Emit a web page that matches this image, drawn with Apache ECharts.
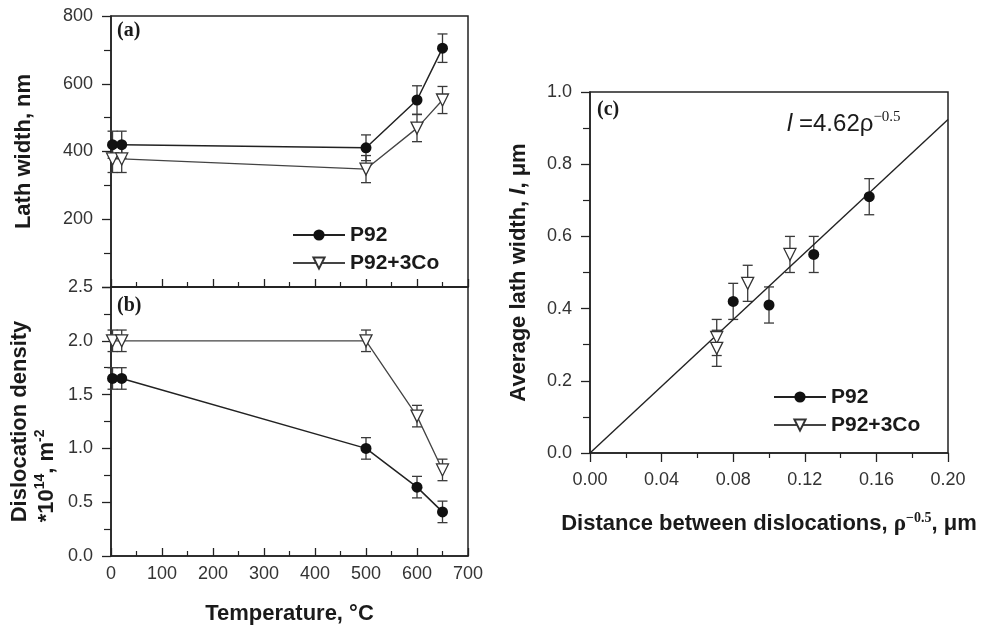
<!DOCTYPE html>
<html>
<head>
<meta charset="utf-8">
<title>Lath width and dislocation density</title>
<script src="https://cdn.jsdelivr.net/npm/echarts@6/dist/echarts.min.js"></script>
<style>
  html, body { margin: 0; padding: 0; background: #fff; }
  #chart { width: 989px; height: 630px; }
</style>
</head>
<body>
<div id="chart"></div>
<script>
// data
const temps = [3, 21, 500, 600, 650]
const lathP92 = [420, 420, 411, 552, 705]
const lathP92Err = [40, 40, 38, 42, 42]
const lathCo = [378, 378, 348, 469, 552]
const lathCoErr = [40, 40, 40, 40, 40]

const densP92 = [1.65, 1.65, 1.0, 0.64, 0.41]
const densP92Err = [0.1, 0.1, 0.1, 0.1, 0.1]
const densCo = [2.0, 2.0, 2.0, 1.30, 0.80]
const densCoErr = [0.1, 0.1, 0.1, 0.1, 0.1]

const distP92 = [0.080, 0.100, 0.125, 0.156]
const widthP92 = [0.42, 0.41, 0.55, 0.71]
const widthP92Err = [0.05, 0.05, 0.05, 0.05]
const distCo = [0.0708, 0.0708, 0.0881, 0.1117]
const widthCo = [0.32, 0.29, 0.47, 0.55]
const widthCoErr = [0.05, 0.05, 0.05, 0.05]

// l = 4.62 * rho^-0.5, end points of the fitted line
const fitX = [0, 0.2]
const fitY = [0, 0.924]

const SANS = '"Liberation Sans", Arial, sans-serif'
const SERIF = '"Liberation Serif", "Times New Roman", serif'
const INK = '#1a1a1a'

const pairs = (xs, ys) => xs.map((x, i) => [x, ys[i]])
const triples = (xs, ys, es) => xs.map((x, i) => [x, ys[i], es[i]])

const errorBars = (rows, axis, cap) => ({
  type: 'custom',
  xAxisIndex: axis,
  yAxisIndex: axis,
  silent: true,
  z: 1,
  encode: { x: 0, y: [1] },
  data: rows,
  renderItem: (params, api) => {
    const x = api.value(0), y = api.value(1), e = api.value(2)
    const top = api.coord([x, y + e])
    const bot = api.coord([x, y - e])
    const st = { stroke: '#3a3a3a', lineWidth: 1.3 }
    return {
      type: 'group',
      children: [
        { type: 'line', shape: { x1: top[0], y1: top[1], x2: bot[0], y2: bot[1] }, style: st },
        { type: 'line', shape: { x1: top[0] - cap, y1: top[1], x2: top[0] + cap, y2: top[1] }, style: st },
        { type: 'line', shape: { x1: bot[0] - cap, y1: bot[1], x2: bot[0] + cap, y2: bot[1] }, style: st }
      ]
    }
  }
})

const circleStyle = { symbol: 'circle', symbolSize: 11, itemStyle: { color: '#111', opacity: 1 } }
const triStyle = {
  symbol: 'triangle', symbolRotate: 180, symbolSize: 12,
  itemStyle: { color: '#fff', borderColor: '#333', borderWidth: 1.3, opacity: 1 }
}

const gridBox = { show: true, borderColor: '#222', borderWidth: 1.5, backgroundColor: 'transparent' }
const axisLine = { show: true, lineStyle: { color: '#222', width: 1.5 } }
const tickLabel = { color: '#333', fontSize: 18, fontFamily: SANS }
const nameStyle = { color: INK, fontSize: 22, fontWeight: 'bold', fontFamily: SANS }

const tempAxis = (idx, showLabels) => ({
  type: 'value', gridIndex: idx, min: 0, max: 700, interval: 100,
  axisLine: axisLine,
  axisTick: { show: true, inside: true, length: 8, lineStyle: { color: '#222', width: 1.3 } },
  minorTick: { show: true, splitNumber: 2, length: 5, lineStyle: { color: '#222', width: 1.2 } },
  splitLine: { show: false },
  axisLabel: { show: showLabels, margin: 9, ...tickLabel },
  name: showLabels ? 'Temperature, °C' : '',
  nameLocation: 'middle', nameGap: 47, nameTextStyle: nameStyle
})

const option = {
  animation: false,
  backgroundColor: '#fff',
  textStyle: { fontFamily: SANS },
  grid: [
    { left: 111, top: 16, width: 357, height: 271, ...gridBox },
    { left: 111, top: 287, width: 357, height: 269, ...gridBox },
    { left: 590, top: 92, width: 358, height: 361, ...gridBox }
  ],
  xAxis: [
    tempAxis(0, false),
    tempAxis(1, true),
    {
      type: 'value', gridIndex: 2, min: 0, max: 0.2, interval: 0.04,
      axisLine: axisLine,
      axisTick: { show: true, length: 9, lineStyle: { color: '#222', width: 1.3 } },
      minorTick: { show: true, splitNumber: 2, length: 5, lineStyle: { color: '#222', width: 1.2 } },
      splitLine: { show: false },
      axisLabel: { margin: 18, formatter: v => v.toFixed(2), ...tickLabel },
      name: '{t|Distance between dislocations, }{r|ρ}{s|−0.5}{t|, μm}',
      nameLocation: 'middle', nameGap: 58,
      nameTextStyle: {
        ...nameStyle,
        rich: {
          t: { fontSize: 22, fontWeight: 'bold', fontFamily: SANS, color: INK, lineHeight: 26 },
          r: { fontSize: 23, fontFamily: SERIF, color: INK, lineHeight: 26 },
          s: { fontSize: 14, fontFamily: SERIF, color: INK, verticalAlign: 'top', lineHeight: 26 }
        }
      }
    }
  ],
  yAxis: [
    {
      type: 'value', gridIndex: 0, min: 0, max: 800, interval: 200,
      axisLine: axisLine,
      axisTick: { show: true, length: 9, lineStyle: { color: '#222', width: 1.3 } },
      minorTick: { show: true, splitNumber: 2, length: 7, lineStyle: { color: '#222', width: 1.2 } },
      splitLine: { show: false },
      axisLabel: { margin: 18, formatter: v => (v === 0 ? '' : String(v)), ...tickLabel },
      name: 'Lath width, nm', nameLocation: 'middle', nameGap: 76, nameTextStyle: nameStyle
    },
    {
      type: 'value', gridIndex: 1, min: 0, max: 2.5, interval: 0.5,
      axisLine: axisLine,
      axisTick: { show: true, length: 9, lineStyle: { color: '#222', width: 1.3 } },
      minorTick: { show: true, splitNumber: 2, length: 7, lineStyle: { color: '#222', width: 1.2 } },
      splitLine: { show: false },
      axisLabel: { margin: 18, formatter: v => v.toFixed(1), ...tickLabel },
      name: '{t|Dislocation density}\n{t|*10}{s|14}{t|, m}{s|-2}',
      nameLocation: 'middle', nameGap: 51,
      nameTextStyle: {
        ...nameStyle,
        padding: [0, 0, 0, 0],
        rich: {
          t: { fontSize: 22, fontWeight: 'bold', fontFamily: SANS, color: INK, lineHeight: 27, align: 'left' },
          s: { fontSize: 14, fontWeight: 'bold', fontFamily: SANS, color: INK, lineHeight: 27, verticalAlign: 'top', align: 'left' }
        }
      }
    },
    {
      type: 'value', gridIndex: 2, min: 0, max: 1, interval: 0.2,
      axisLine: axisLine,
      axisTick: { show: true, length: 9, lineStyle: { color: '#222', width: 1.3 } },
      minorTick: { show: true, splitNumber: 2, length: 7, lineStyle: { color: '#222', width: 1.2 } },
      splitLine: { show: false },
      axisLabel: { margin: 18, formatter: v => v.toFixed(1), ...tickLabel },
      name: '{t|Average lath width, }{i|l}{t|, μm}',
      nameLocation: 'middle', nameGap: 60,
      nameTextStyle: {
        ...nameStyle,
        rich: {
          t: { fontSize: 22, fontWeight: 'bold', fontFamily: SANS, color: INK },
          i: { fontSize: 22, fontWeight: 'bold', fontStyle: 'italic', fontFamily: SANS, color: INK }
        }
      }
    }
  ],
  legend: [
    {
      data: ['P92', 'P92+3Co'], orient: 'vertical', left: 292, top: 224, padding: 0,
      itemWidth: 52, itemHeight: 14, itemGap: 6, selectedMode: false,
      textStyle: { fontSize: 21, fontWeight: 'bold', color: INK, fontFamily: SANS, lineHeight: 22 }
    },
    {
      data: ['P92', 'P92+3Co'], orient: 'vertical', left: 773, top: 386, padding: 0,
      itemWidth: 52, itemHeight: 14, itemGap: 6, selectedMode: false,
      textStyle: { fontSize: 21, fontWeight: 'bold', color: INK, fontFamily: SANS, lineHeight: 22 }
    }
  ],
  graphic: [
    { type: 'text', left: 117, top: 21, style: { text: '(a)', font: `bold 20px ${SERIF}`, fill: INK } },
    { type: 'text', left: 117, top: 296, style: { text: '(b)', font: `bold 20px ${SERIF}`, fill: INK } },
    { type: 'text', left: 597, top: 100, style: { text: '(c)', font: `bold 20px ${SERIF}`, fill: INK } },
    {
      type: 'text', left: 787, top: 110,
      style: {
        text: '{i|l} =4.62{r|ρ}{s|−0.5}',
        font: `24px ${SANS}`, fill: INK,
        rich: {
          i: { fontSize: 24, fontStyle: 'italic', fontFamily: SANS, lineHeight: 28 },
          r: { fontSize: 24, fontFamily: SANS, lineHeight: 28 },
          s: { fontSize: 15, fontFamily: SERIF, verticalAlign: 'top', lineHeight: 28 }
        }
      }
    }
  ],
  series: [
    {
      name: 'P92', type: 'line', xAxisIndex: 0, yAxisIndex: 0, z: 3,
      data: pairs(temps, lathP92), ...circleStyle,
      lineStyle: { color: '#222', width: 1.5 }
    },
    {
      name: 'P92+3Co', type: 'line', xAxisIndex: 0, yAxisIndex: 0, z: 3,
      data: pairs(temps, lathCo), ...triStyle,
      lineStyle: { color: '#444', width: 1.3 }
    },
    errorBars(triples(temps, lathP92, lathP92Err), 0, 5),
    errorBars(triples(temps, lathCo, lathCoErr), 0, 5),
    {
      name: 'P92', type: 'line', xAxisIndex: 1, yAxisIndex: 1, z: 3,
      data: pairs(temps, densP92), ...circleStyle,
      lineStyle: { color: '#222', width: 1.5 }
    },
    {
      name: 'P92+3Co', type: 'line', xAxisIndex: 1, yAxisIndex: 1, z: 3,
      data: pairs(temps, densCo), ...triStyle,
      lineStyle: { color: '#444', width: 1.3 }
    },
    errorBars(triples(temps, densP92, densP92Err), 1, 5),
    errorBars(triples(temps, densCo, densCoErr), 1, 5),
    {
      type: 'line', xAxisIndex: 2, yAxisIndex: 2, z: 2, symbol: 'none', silent: true,
      data: pairs(fitX, fitY), lineStyle: { color: '#222', width: 1.4 }
    },
    errorBars(triples(distP92, widthP92, widthP92Err), 2, 5),
    errorBars(triples(distCo, widthCo, widthCoErr), 2, 5),
    {
      name: 'P92', type: 'scatter', xAxisIndex: 2, yAxisIndex: 2, z: 3,
      data: pairs(distP92, widthP92), ...circleStyle
    },
    {
      name: 'P92+3Co', type: 'scatter', xAxisIndex: 2, yAxisIndex: 2, z: 3,
      data: pairs(distCo, widthCo), ...triStyle
    }
  ]
}

window.addEventListener('load', () => {
  const chart = echarts.init(document.getElementById('chart'))
  chart.setOption(option)
})
</script>
</body>
</html>
